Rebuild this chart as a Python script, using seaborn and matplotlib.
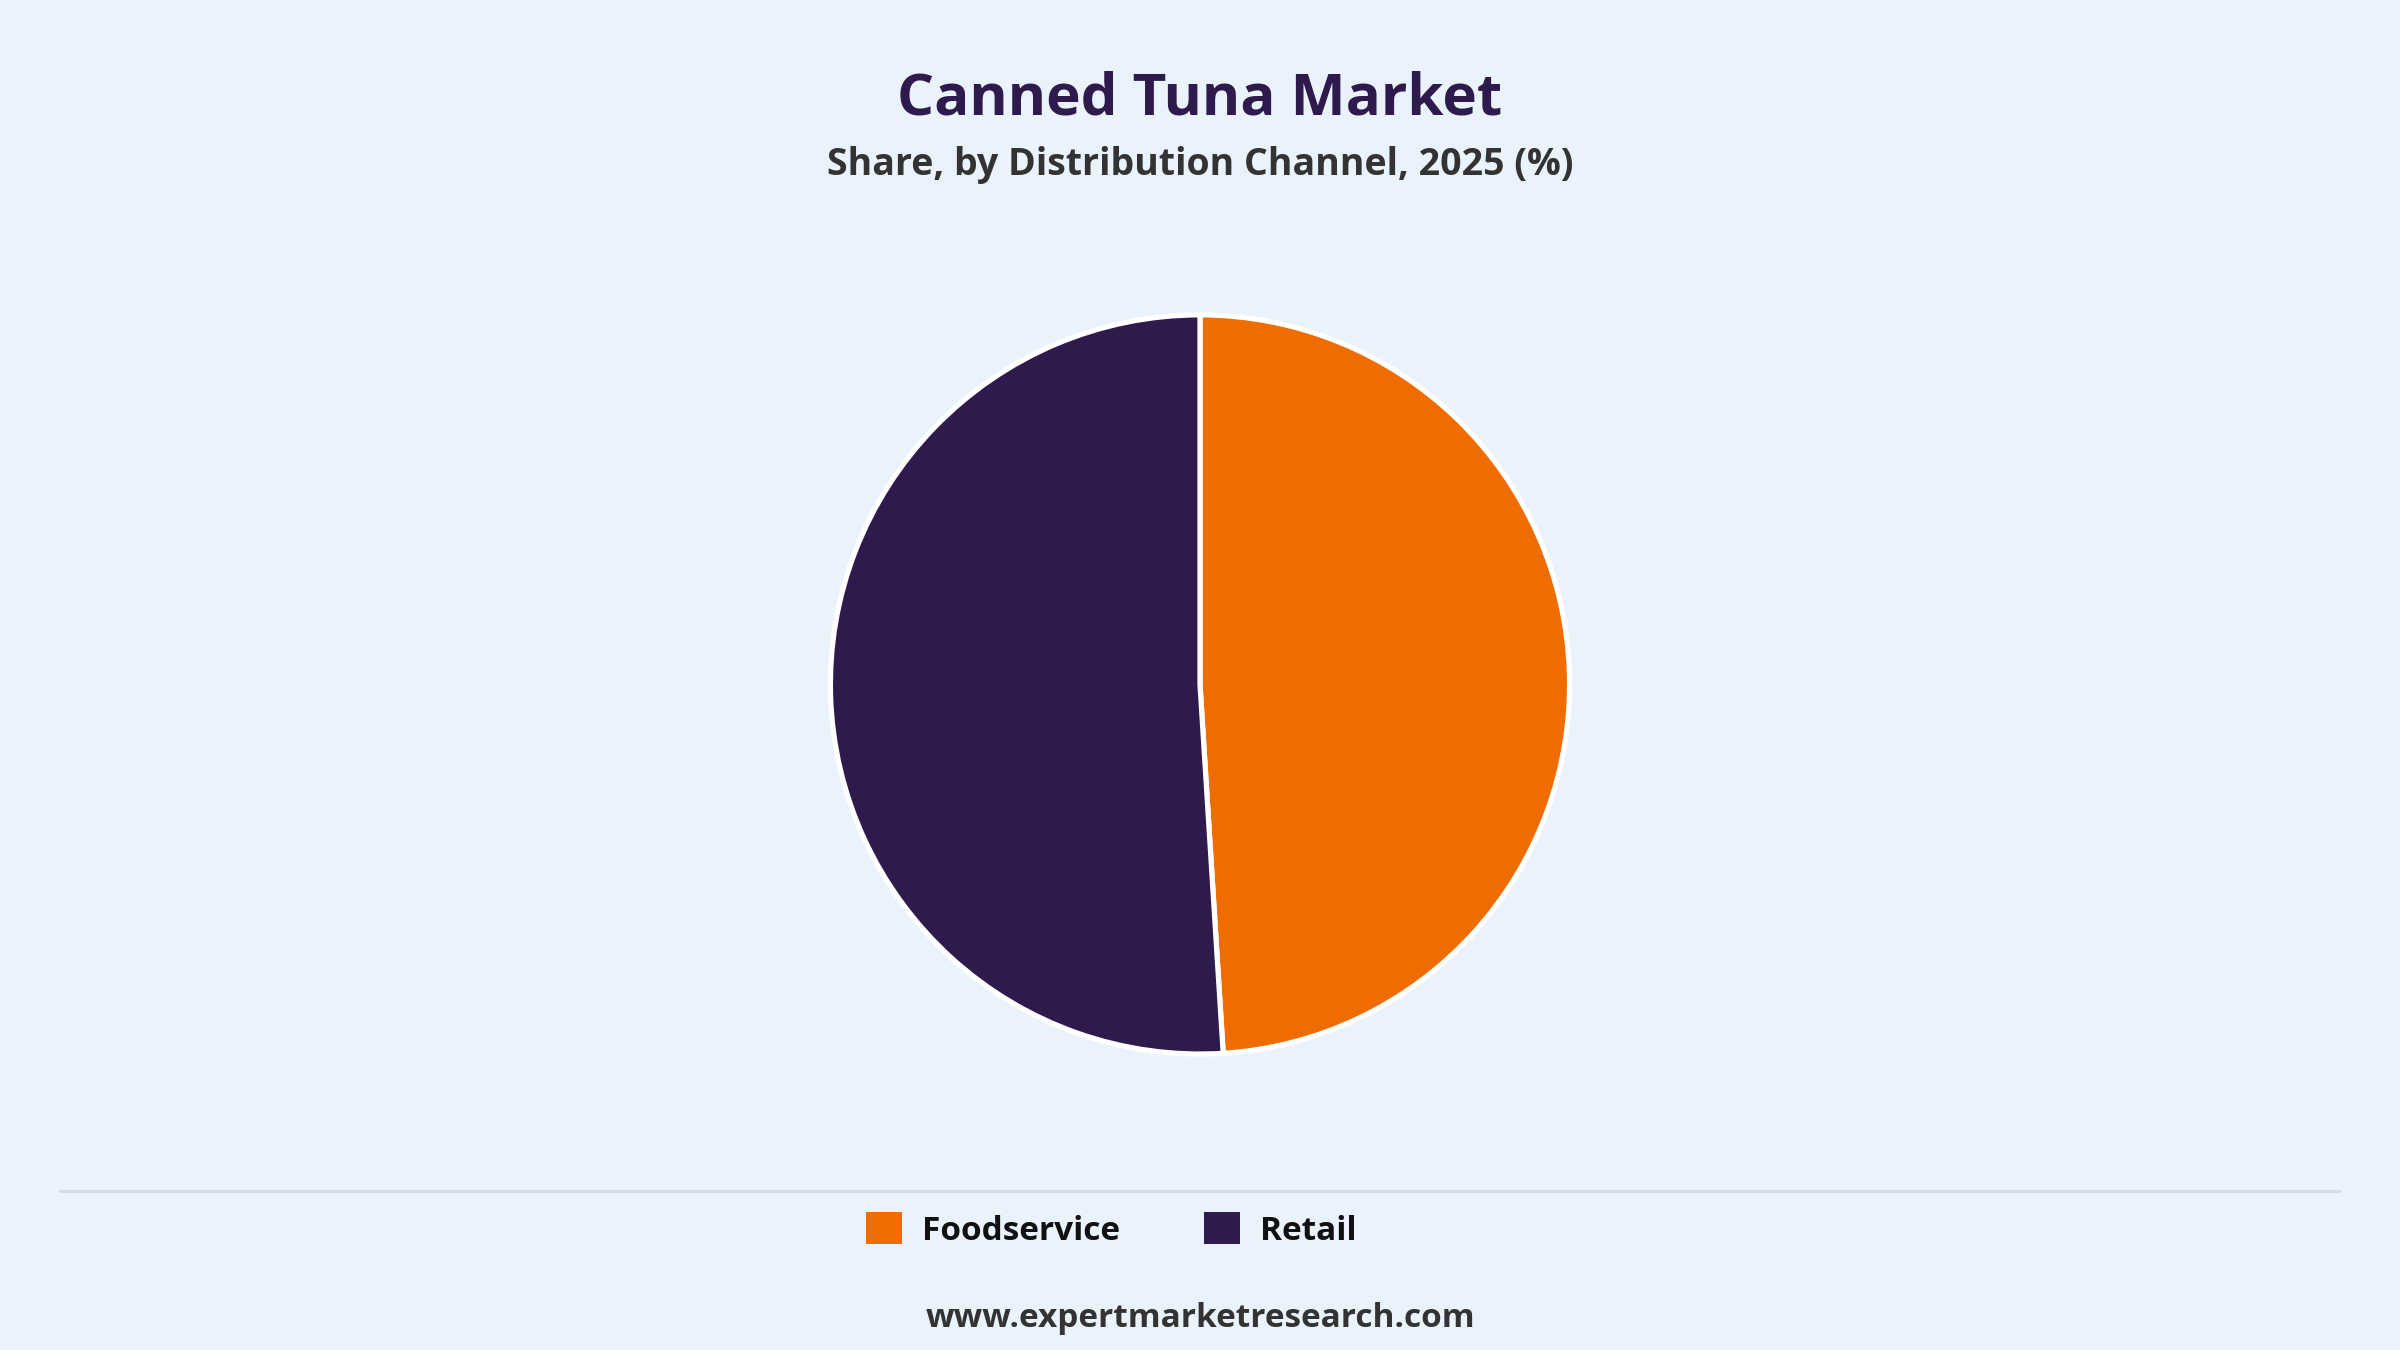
import matplotlib
matplotlib.use("Agg")
import matplotlib.pyplot as plt
import matplotlib.patches as mpatches
import seaborn as sns

sns.set_theme(style="white")
plt.rcParams['font.family'] = ['Open Sans', 'DejaVu Sans']

categories = ["Foodservice", "Retail"]
shares = [49.0, 51.0]
colors = ["#EF6C00", "#2E1A4C"]
bg = "#EAF2FB"

fig = plt.figure(figsize=(16, 9), dpi=150, facecolor=bg)
w = 0.553 * 9 / 16
ax = fig.add_axes([0.5 - w / 2, 0.493 - 0.2765, w, 0.553])
ax.set_facecolor(bg)
ax.pie(shares, colors=colors, startangle=90, counterclock=False, radius=1,
       wedgeprops=dict(edgecolor="white", linewidth=2.5))
ax.set_xlim(-1.01, 1.01)
ax.set_ylim(-1.01, 1.01)
ax.set_aspect("equal")
ax.axis("off")

fig.text(0.5, 0.926, "Canned Tuna Market", ha="center", va="center",
         fontsize=28, fontweight="bold", color="#2E1A4C")
fig.text(0.5, 0.878, "Share, by Distribution Channel, 2025 (%)", ha="center", va="center",
         fontsize=18, fontweight="bold", color="#333333")
fig.add_artist(plt.Line2D([0.025, 0.975], [0.118, 0.118], color="#D9DDE3", lw=1.5))
handles = [mpatches.Patch(facecolor=c, edgecolor="none", label=l) for c, l in zip(colors, categories)]
leg = fig.legend(handles=handles, loc="center", bbox_to_anchor=(0.463, 0.089), ncol=2,
                 frameon=False, fontsize=16, handlelength=1.1, handleheight=1.1,
                 columnspacing=2.5, handletextpad=0.6)
for t in leg.get_texts():
    t.set_fontweight("bold")
    t.set_color("#111111")
fig.text(0.5, 0.023, "www.expertmarketresearch.com", ha="center", va="center",
         fontsize=16, fontweight="bold", color="#333333")
fig.savefig("out.png", facecolor=bg)
